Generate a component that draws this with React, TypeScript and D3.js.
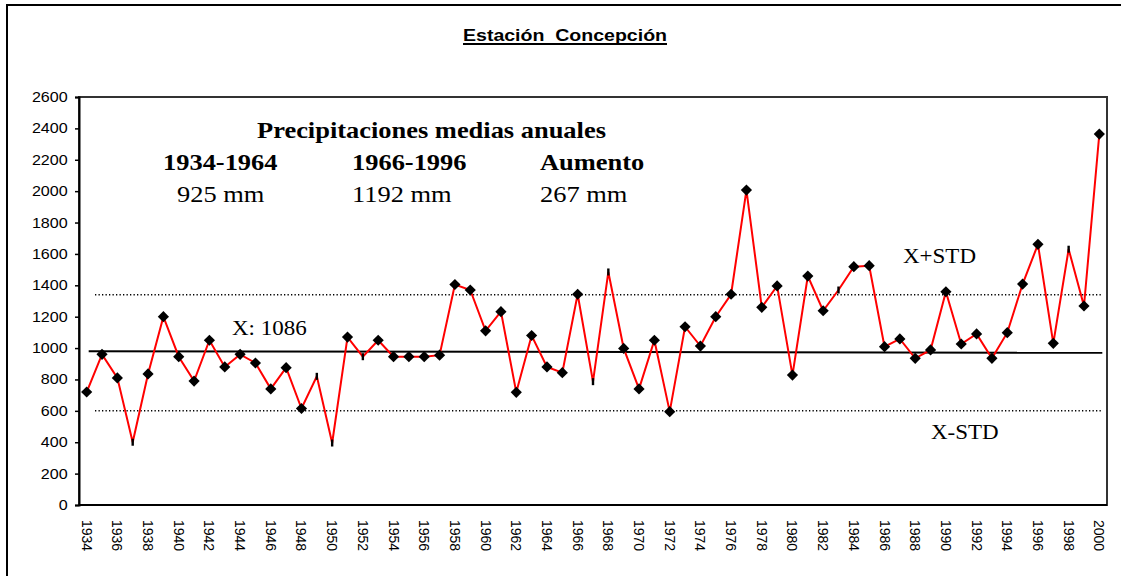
import * as React from 'react';
import * as d3 from 'd3';
import {useEffect, useRef} from 'react';

const years: number[] = [
    1934, 1935, 1936, 1937, 1938, 1939, 1940, 1941, 1942, 1943, 1944, 1945, 1946, 1947, 1948, 1949, 1950,
    1951, 1952, 1953, 1954, 1955, 1956, 1957, 1958, 1959, 1960, 1961, 1962, 1963, 1964, 1965, 1966, 1967,
    1968, 1969, 1970, 1971, 1972, 1973, 1974, 1975, 1976, 1977, 1978, 1979, 1980, 1981, 1982, 1983, 1984,
    1985, 1986, 1987, 1988, 1989, 1990, 1991, 1992, 1993, 1994, 1995, 1996, 1997, 1998, 1999, 2000
];

// precipitacion anual (mm)
const rainfall: number[] = [
    720, 960, 810, 400, 835, 1200, 945, 790, 1050, 880, 960, 905, 740, 875, 615, 820, 395,
    1070, 945, 1050, 945, 945, 945, 955, 1405, 1370, 1110, 1232, 718, 1080, 880, 843, 1343, 786,
    1485, 998, 740, 1050, 595, 1136, 1013, 1200, 1343, 2007, 1260, 1396, 828, 1459, 1238, 1370, 1519,
    1525, 1009, 1058, 935, 988, 1359, 1026, 1090, 935, 1098, 1408, 1661, 1030, 1630, 1268, 2364
];

// years drawn with a small dash instead of a diamond
const dashYears: number[] = [1937, 1949, 1950, 1952, 1967, 1968, 1983, 1998];

const yTicks: number[] = [0, 200, 400, 600, 800, 1000, 1200, 1400, 1600, 1800, 2000, 2200, 2400, 2600];

const meanLine: number[] = [980, 970];
const stdUpper = 1340;
const stdLower = 600;

const titleText = 'Estación  Concepción';
const boxTitle = 'Precipitaciones medias anuales';
const periodLabels: string[] = ['1934-1964', '1966-1996', 'Aumento'];
const periodValues: string[] = ['925 mm', '1192 mm', '267 mm'];

const W = 1121;
const H = 576;
const margins = {left: 79, right: 1107, top: 97, bottom: 505};
const SX = 1.15;
const SERIF = '"Liberation Serif", "Times New Roman", serif';
const SANS = '"Liberation Sans", Arial, sans-serif';

function stretchedText(g: any, x: number, y: number, txt: string, size: number, font: string, weight: string, anchor = 'start') {
    return g.append('text')
        .attr('transform', `translate(${x} ${y}) scale(${SX} 1)`)
        .attr('font-family', font)
        .attr('font-size', size)
        .attr('font-weight', weight)
        .attr('text-anchor', anchor)
        .attr('fill', '#000')
        .text(txt);
}

function drawChart(svgEl: SVGSVGElement) {
    const svg = d3.select(svgEl);
    svg.selectAll('*').remove();

    const x = d3.scaleBand<number>().domain(years).range([margins.left, margins.right]);
    const cx = (yr: number) => (x(yr) as number) + x.bandwidth() / 2;
    const y = d3.scaleLinear().domain([0, 2600]).range([margins.bottom, margins.top]);

    // outer frame
    svg.append('rect').attr('x', 7).attr('y', 5).attr('width', W + 20).attr('height', H + 20)
        .attr('fill', 'none').attr('stroke', '#000').attr('stroke-width', 2);

    // title
    const tg = svg.append('g').attr('transform', `translate(565 41) scale(${SX} 1)`);
    const t = tg.append('text').attr('font-family', SANS).attr('font-size', 17).attr('font-weight', 'bold')
        .attr('text-anchor', 'middle').attr('fill', '#000').style('white-space', 'pre').text(titleText);
    const bb = (t.node() as SVGTextElement).getBBox();
    tg.append('rect').attr('x', bb.x).attr('y', 2).attr('width', bb.width).attr('height', 2).attr('fill', '#000');

    // plot frame
    svg.append('rect').attr('x', margins.left).attr('y', margins.top)
        .attr('width', margins.right - margins.left).attr('height', margins.bottom - margins.top)
        .attr('fill', 'none').attr('stroke', '#333').attr('stroke-width', 2);

    // y axis
    const yAxis = svg.append('g').attr('transform', `translate(${margins.left} 0)`)
        .call(d3.axisLeft(y).tickValues(yTicks).tickSize(4).tickFormat(d3.format('d')));
    yAxis.select('.domain').attr('stroke', '#000').attr('stroke-width', 2);
    yAxis.selectAll('.tick line').attr('stroke', '#000').attr('stroke-width', 1.5);
    yAxis.selectAll('.tick text').attr('font-family', SANS).attr('font-size', 14).attr('fill', '#000')
        .attr('transform', `scale(${SX} 1)`)
        .attr('x', -9 / SX - 2);

    // x axis line
    svg.append('line').attr('x1', margins.left).attr('x2', margins.right)
        .attr('y1', margins.bottom).attr('y2', margins.bottom).attr('stroke', '#000').attr('stroke-width', 2);

    // x labels, every second year
    svg.append('g').selectAll('text').data(years.filter((_, i) => i % 2 === 0)).enter().append('text')
        .attr('transform', (d: number) => `translate(${cx(d) - 5} ${margins.bottom + 15}) rotate(90)`)
        .attr('font-family', SANS).attr('font-size', 14).attr('fill', '#000')
        .text((d: number) => String(d));

    // std lines
    [stdUpper, stdLower].forEach((v) => {
        svg.append('line').attr('x1', 95).attr('x2', 1102).attr('y1', y(v)).attr('y2', y(v))
            .attr('stroke', '#000').attr('stroke-width', 1.5).attr('stroke-dasharray', '1.3 2.2');
    });

    // mean line
    svg.append('line').attr('x1', cx(years[0]) + 2).attr('x2', cx(years[years.length - 1]) + 3)
        .attr('y1', y(meanLine[0])).attr('y2', y(meanLine[1]))
        .attr('stroke', '#000').attr('stroke-width', 2);

    // series
    const line = d3.line<number>().x((_, i) => cx(years[i])).y((d) => y(d));
    svg.append('path').datum(rainfall).attr('d', line).attr('fill', 'none')
        .attr('stroke', '#ff0000').attr('stroke-width', 2);

    const pts = years.map((yr, i) => ({yr, v: rainfall[i]}));
    const diamond = d3.symbol().type(d3.symbolDiamond2).size(80);
    svg.append('g').selectAll('path').data(pts.filter((p) => dashYears.indexOf(p.yr) < 0)).enter().append('path')
        .attr('d', diamond as any)
        .attr('transform', (p: any) => `translate(${cx(p.yr)} ${y(p.v)})`)
        .attr('fill', '#000');
    svg.append('g').selectAll('rect').data(pts.filter((p) => dashYears.indexOf(p.yr) >= 0)).enter().append('rect')
        .attr('x', (p: any) => cx(p.yr) - 1.2).attr('y', (p: any) => y(p.v) - 3.5)
        .attr('width', 2.4).attr('height', 7).attr('fill', '#000');

    // annotations
    stretchedText(svg, 257, 138, boxTitle, 23, SERIF, 'bold');
    const colX = [163, 352, 540];
    const valX = [177, 352, 540];
    periodLabels.forEach((s, i) => stretchedText(svg, colX[i], 170, s, 23, SERIF, 'bold'));
    periodValues.forEach((s, i) => stretchedText(svg, valX[i], 202, s, 23, SERIF, 'normal'));
    stretchedText(svg, 232, 335, 'X: ' + 1086, 20, SERIF, 'normal');
    stretchedText(svg, 903, 263, 'X+STD', 20, SERIF, 'normal');
    stretchedText(svg, 931, 439, 'X-STD', 20, SERIF, 'normal');
}

export default function App() {
    const svgRef = useRef<SVGSVGElement>(null);
    useEffect(() => {
        if (svgRef.current) {
            drawChart(svgRef.current);
        }
    }, []);
    return (
        <div style={{position: 'absolute', left: 0, top: 0, width: W, height: H, overflow: 'hidden', background: '#fff'}}>
            <svg ref={svgRef} width={W} height={H} viewBox={`0 0 ${W} ${H}`} xmlns="http://www.w3.org/2000/svg"/>
        </div>
    );
}
